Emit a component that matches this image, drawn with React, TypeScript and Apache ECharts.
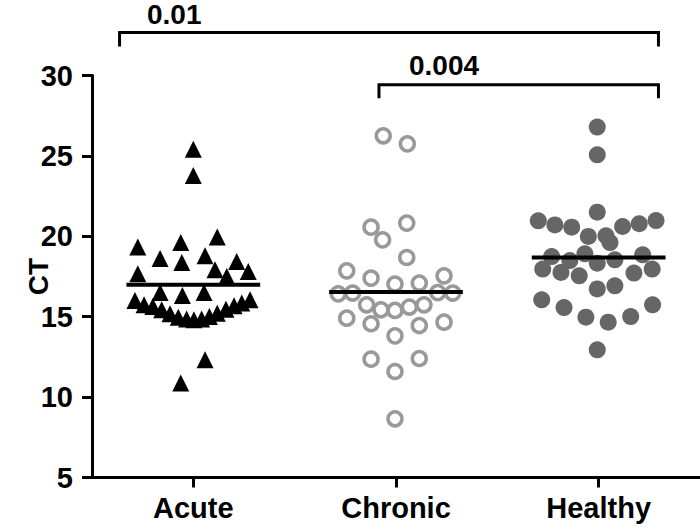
import React, { useEffect, useRef } from "react";
import * as echarts from "echarts";

const categories = ["Acute", "Chronic", "Healthy"];
const yTicks = { min: 5, max: 30, interval: 5 };

// Acute (triangles): values and horizontal swarm offsets (category units)
const acuteValues = [
  25.42, 23.78, 19.33, 19.61, 19.95, 18.62, 18.37, 18.79, 18.43, 17.67, 17.92, 17.5, 17.81,
  16.5, 16.32, 16.5,
  16.01, 15.74, 15.63, 15.43, 15.18, 14.97, 14.85, 14.81, 14.85, 15.01, 15.22, 15.47, 15.68, 15.85, 16.05,
  12.32, 10.87,
];
const acuteOffsets = [
  0.0, 0.0, -0.274, -0.062, 0.118, -0.164, -0.057, 0.058, 0.214, -0.274, 0.107, 0.165, 0.271,
  -0.164, -0.054, 0.053,
  -0.288, -0.243, -0.2, -0.156, -0.115, -0.074, -0.033, 0.003, 0.041, 0.079, 0.118, 0.161, 0.201, 0.239, 0.28,
  0.058, -0.062,
];

// Chronic (open circles)
const chronicValues = [
  26.25, 25.75, 20.57, 20.82, 19.78, 18.68, 17.85, 17.4, 17.03, 17.09, 17.54, 16.42, 16.47, 16.5, 16.47,
  15.74, 15.43, 15.39, 15.6, 15.74, 14.91, 14.56, 14.45, 14.66, 13.81, 12.36, 12.4, 11.59, 8.65,
];
const chronicOffsets = [
  -0.063, 0.056, -0.123, 0.053, -0.066, 0.053, -0.243, -0.123, -0.005, 0.115, 0.237, -0.285, -0.214, 0.206, 0.28,
  -0.145, -0.074, -0.005, 0.066, 0.138, -0.243, -0.123, 0.115, 0.237, -0.005, -0.123, 0.115, -0.005, -0.005,
];

// Healthy (filled circles)
const healthyValues = [
  26.79, 25.07, 21.5, 20.96, 20.71, 20.57, 20.61, 20.78, 20.98, 19.99, 20.03, 19.61,
  18.74, 18.49, 18.91, 18.33, 18.54, 18.85, 17.96, 17.75, 17.54, 17.71, 17.96,
  16.73, 16.92, 16.05, 15.57, 14.97, 14.66, 15.01, 15.74, 12.94,
];
const healthyOffsets = [
  -0.007, -0.007, -0.007, -0.298, -0.216, -0.133, 0.118, 0.2, 0.283, -0.051, 0.036, 0.056,
  -0.232, -0.142, -0.068, -0.007, 0.08, 0.217, -0.276, -0.186, -0.096, 0.174, 0.264,
  -0.007, 0.08, -0.281, -0.171, -0.063, 0.047, 0.158, 0.266, -0.007,
];

// Horizontal lines (central value) per group
const centralValues = [16.98, 16.53, 18.68];
const centralHalfWidth = 0.33;

// Significance brackets: [xStart, xEnd, yTop, yFoot] in data units
const bracketLabels = ["0.01", "0.004"];
const bracketX = [
  [0.136, 2.795],
  [1.416, 2.795],
];
const bracketY = [
  [32.67, 31.8],
  [29.42, 28.59],
];

const FONT = "'Liberation Sans', Arial, sans-serif";

export default function App() {
  const ref = useRef<HTMLDivElement>(null);

  useEffect(() => {
    if (!ref.current) return;
    const chart = echarts.init(ref.current, null, { renderer: "svg" });

    const pts = (vals: number[], offs: number[], idx: number) =>
      vals.map((v, i) => [idx + 0.5 + offs[i], v]);

    const centralSeries = centralValues.map((v, i) => ({
      type: "line",
      xAxisIndex: 1,
      data: [
        [i + 0.5 - centralHalfWidth, v],
        [i + 0.5 + centralHalfWidth, v],
      ],
      symbol: "none",
      lineStyle: { color: "#000", width: 4 },
      z: 10,
      silent: true,
    }));

    const bracketSeries = bracketX.map((bx, i) => ({
      type: "line",
      xAxisIndex: 1,
      clip: false,
      data: [
        [bx[0], bracketY[i][1]],
        [bx[0], bracketY[i][0]],
        [bx[1], bracketY[i][0]],
        [bx[1], bracketY[i][1]],
      ],
      symbol: "none",
      lineStyle: { color: "#000", width: 3, join: "miter" },
      z: 10,
      silent: true,
    }));

    chart.setOption({
      animation: false,
      grid: { left: 92, right: 0, top: 75.5, bottom: 51.5 },
      xAxis: [
        {
          type: "category",
          data: categories,
          boundaryGap: true,
          axisLine: { show: true, lineStyle: { color: "#000", width: 3 } },
          axisTick: { show: true, alignWithLabel: true, length: 10, lineStyle: { color: "#000", width: 3 } },
          axisLabel: { color: "#000", fontSize: 29, fontWeight: "bold", fontFamily: FONT, margin: 16 },
          splitLine: { show: false },
        },
        { type: "value", min: 0, max: 3, show: false },
      ],
      yAxis: {
        type: "value",
        min: yTicks.min,
        max: yTicks.max,
        interval: yTicks.interval,
        name: "CT",
        nameLocation: "middle",
        nameGap: 40,
        nameRotate: 90,
        nameMoveOverlap: false,
        nameTextStyle: { color: "#000", fontSize: 28, fontWeight: "bold", fontFamily: FONT },
        axisLine: { show: true, lineStyle: { color: "#000", width: 3 } },
        axisTick: { show: true, length: 10, lineStyle: { color: "#000", width: 3 } },
        axisLabel: { color: "#000", fontSize: 29, fontWeight: "bold", fontFamily: FONT, margin: 19 },
        splitLine: { show: false },
      },
      series: [
        {
          type: "scatter",
          xAxisIndex: 1,
          data: pts(acuteValues, acuteOffsets, 0),
          symbol: "triangle",
          symbolSize: 17,
          itemStyle: { color: "#000", opacity: 1 },
          silent: true,
        },
        {
          type: "scatter",
          xAxisIndex: 1,
          data: pts(chronicValues, chronicOffsets, 1),
          symbol: "circle",
          symbolSize: 14,
          itemStyle: { color: "rgba(255,255,255,0)", borderColor: "#999", borderWidth: 3.5, opacity: 1 },
          silent: true,
        },
        {
          type: "scatter",
          xAxisIndex: 1,
          data: pts(healthyValues, healthyOffsets, 2),
          symbol: "circle",
          symbolSize: 17,
          itemStyle: { color: "#666", opacity: 1 },
          silent: true,
        },
        ...centralSeries,
        ...bracketSeries,
      ],
      graphic: [
        {
          type: "text",
          left: 147,
          top: 0,
          style: { text: bracketLabels[0], fontSize: 28, fontWeight: "bold", fontFamily: FONT, fill: "#000" },
        },
        {
          type: "text",
          left: 409,
          top: 51,
          style: { text: bracketLabels[1], fontSize: 28, fontWeight: "bold", fontFamily: FONT, fill: "#000" },
        },
      ],
    });

    return () => chart.dispose();
  }, []);

  return (
    <div
      ref={ref}
      style={{ position: "absolute", left: 0, top: 0, width: 700, height: 529 }}
    />
  );
}
